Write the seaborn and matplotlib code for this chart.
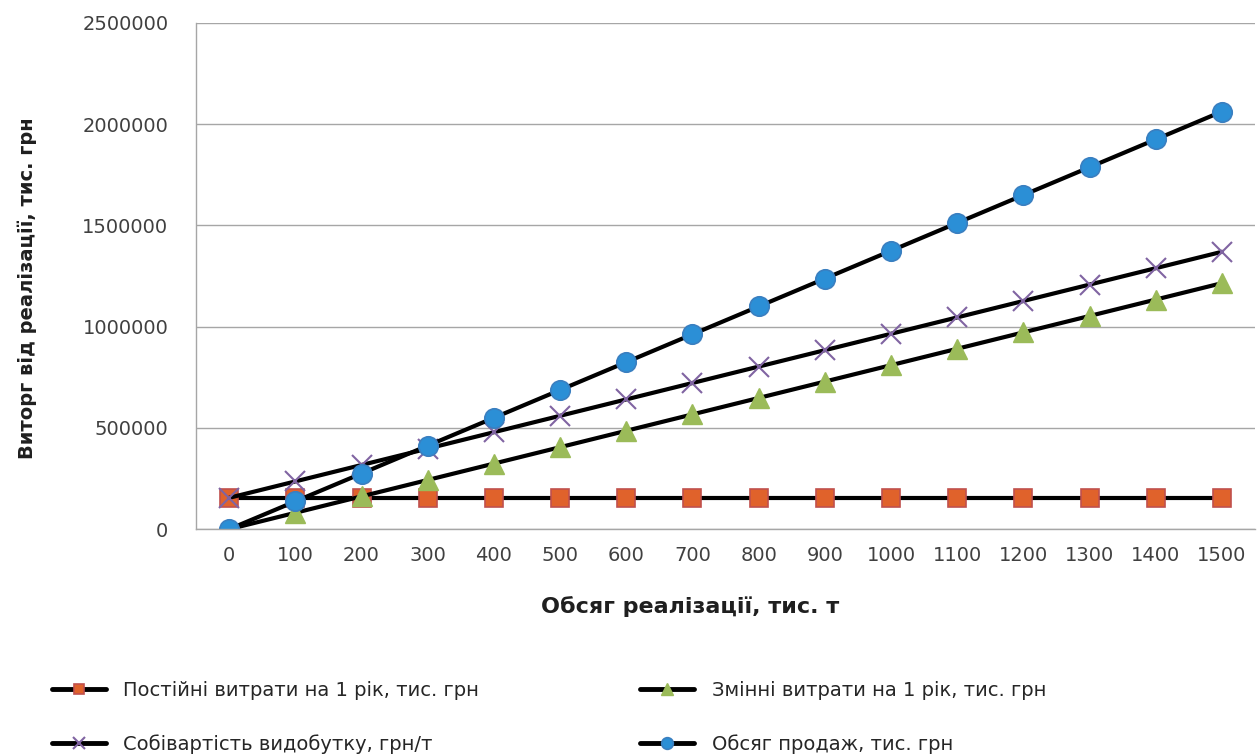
import matplotlib
matplotlib.use("Agg")
import matplotlib.pyplot as plt
import seaborn as sns
from matplotlib.lines import Line2D
from matplotlib.ticker import FuncFormatter

volume = [0, 100, 200, 300, 400, 500, 600, 700, 800, 900, 1000, 1100, 1200, 1300, 1400, 1500]
fixed_costs = [155000, 155000, 155000, 155000, 155000, 155000, 155000, 155000,
               155000, 155000, 155000, 155000, 155000, 155000, 155000, 155000]
variable_costs = [0, 81000, 162000, 243000, 324000, 405000, 486000, 567000,
                  648000, 729000, 810000, 891000, 972000, 1053000, 1134000, 1215000]
unit_cost = [155000, 236000, 317000, 398000, 479000, 560000, 641000, 722000,
             803000, 884000, 965000, 1046000, 1127000, 1208000, 1289000, 1370000]
sales = [0, 137500, 275000, 412500, 550000, 687500, 825000, 962500,
         1100000, 1237500, 1375000, 1512500, 1650000, 1787500, 1925000, 2062500]
y_ticks = [0, 500000, 1000000, 1500000, 2000000, 2500000]

labels = ["Постійні витрати на 1 рік, тис. грн",
          "Змінні витрати на 1 рік, тис. грн",
          "Собівартість видобутку, грн/т",
          "Обсяг продаж, тис. грн"]

sns.set_theme(style="white")
plt.rcParams['font.family'] = ['DejaVu Sans']

fig = plt.figure(figsize=(12.6, 7.56), dpi=100)
ax = fig.add_axes([0.1556, 0.300, 0.8404, 0.6696])

styles = [
    (fixed_costs, dict(marker="s", markerfacecolor="#E0622B", markeredgecolor="#C0504D", markersize=13, markeredgewidth=1.2)),
    (variable_costs, dict(marker="^", markerfacecolor="#9BBB59", markeredgecolor="#9BBB59", markersize=14, markeredgewidth=1)),
    (unit_cost, dict(marker="x", markerfacecolor="#8064A2", markeredgecolor="#8064A2", markersize=14, markeredgewidth=1.5)),
    (sales, dict(marker="o", markerfacecolor="#2B8FD6", markeredgecolor="#3A7FC0", markersize=14, markeredgewidth=1.2)),
]

handles = []
for (vals, st), lab in zip(styles, labels):
    sns.lineplot(x=volume, y=vals, ax=ax, color="black", linewidth=3, **st)
    hs = dict(st)
    hs["markersize"] = hs["markersize"] * 0.6
    handles.append(Line2D([0], [0], color="black", linewidth=3.5, label=lab, **hs))

ax.set_xlim(-50, 1550)
ax.set_ylim(0, 2500000)
ax.set_xticks(volume)
ax.set_xticklabels([str(v) for v in volume])
ax.set_yticks(y_ticks)
ax.yaxis.set_major_formatter(FuncFormatter(lambda v, p: f"{int(v)}"))
ax.tick_params(axis="both", length=0, labelsize=14, colors="#404040")
ax.tick_params(axis="x", pad=12)
ax.tick_params(axis="y", pad=20)
ax.grid(axis="y", color="#A6A6A6", linewidth=1)
ax.grid(axis="x", visible=False)
for s in ["top", "right"]:
    ax.spines[s].set_visible(False)
for s in ["left", "bottom"]:
    ax.spines[s].set_color("#A6A6A6")
    ax.spines[s].set_linewidth(1)

ax.set_xlabel("Обсяг реалізації, тис. т", fontsize=16, fontweight="bold", color="#1F1F1F")
ax.set_ylabel("Виторг від реалізації, тис. грн", fontsize=14, fontweight="bold", color="#1F1F1F")
ax.xaxis.set_label_coords(0.4665, -0.132)
ax.yaxis.set_label_coords(-0.150, 0.476)

order = [0, 2, 1, 3]
fig.legend([handles[i] for i in order], [labels[i] for i in order],
           ncol=2, loc="upper left", bbox_to_anchor=(0.027, 0.122), frameon=False,
           fontsize=14, handlelength=2.8, labelspacing=1.75, columnspacing=8.25,
           handletextpad=0.9)

fig.savefig("out.png", dpi=100)
